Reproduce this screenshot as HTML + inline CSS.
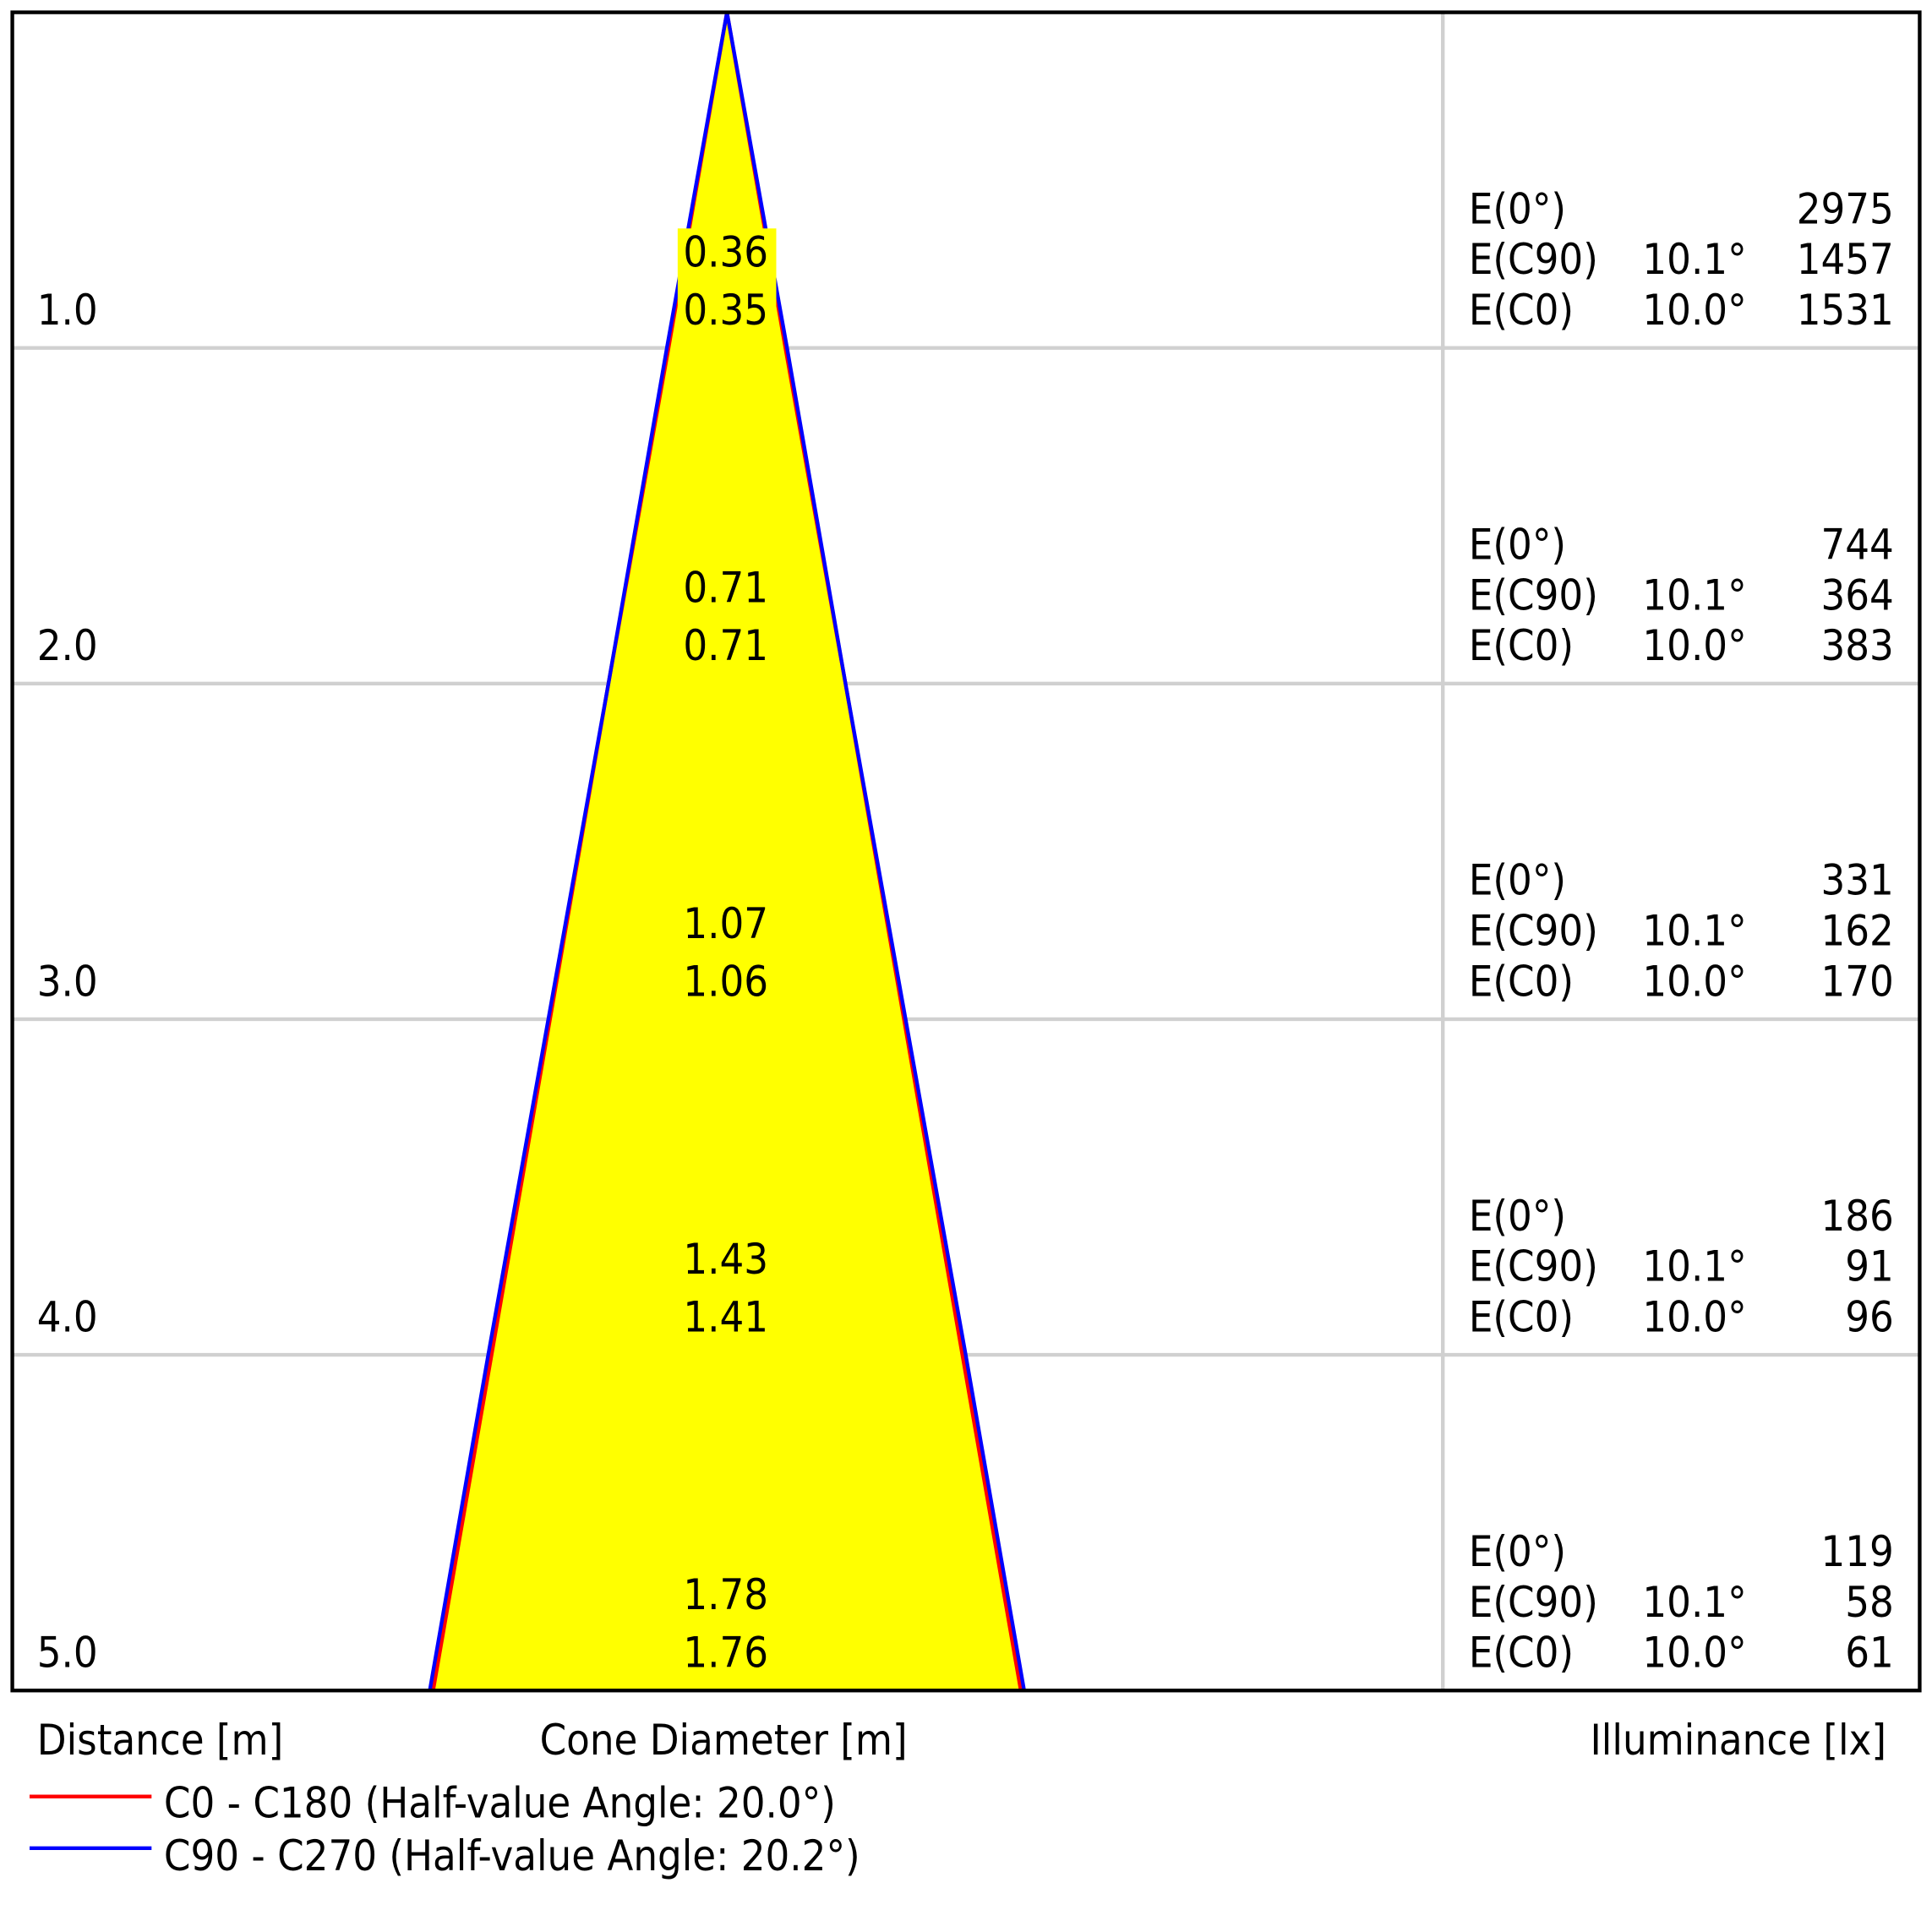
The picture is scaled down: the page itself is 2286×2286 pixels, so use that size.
<!DOCTYPE html>
<html><head><meta charset="utf-8"><style>
html,body{margin:0;padding:0;background:#fff;}
svg{display:block;}
text{font-family:"DejaVu Sans Condensed","Liberation Sans",sans-serif;font-size:34.5px;fill:#000;}
</style></head><body>
<svg id="chart" width="2286" height="2286" viewBox="0 0 1568 1568" preserveAspectRatio="none" xmlns="http://www.w3.org/2000/svg">
<rect x="0" y="0" width="1568" height="1568" fill="#fff"/>
<g id="grid"></g>
<g id="cone"></g>
<g id="labels"></g>
<rect x="10" y="10" width="1548" height="1362" fill="none" stroke="#000" stroke-width="3"/>
<text x="30" y="1424">Distance [m]</text>
<text x="438" y="1424">Cone Diameter [m]</text>
<text x="1531" y="1424" text-anchor="end">Illuminance [lx]</text>
<line x1="24" y1="1458" x2="123" y2="1458" stroke="#f00" stroke-width="3"/>
<text x="133" y="1475">C0 - C180 (Half-value Angle: 20.0°)</text>
<line x1="24" y1="1500" x2="123" y2="1500" stroke="#00f" stroke-width="3"/>
<text x="133" y="1518">C90 - C270 (Half-value Angle: 20.2°)</text>
</svg>
<script>
const distances = [1, 2, 3, 4, 5];
const diamC90 = [0.36, 0.71, 1.07, 1.43, 1.78];
const diamC0 = [0.35, 0.71, 1.06, 1.41, 1.76];
const e0 = [2975, 744, 331, 186, 119];
const eC90 = [1457, 364, 162, 91, 58];
const eC0 = [1531, 383, 170, 96, 61];
const angleC90 = "10.1°";
const angleC0 = "10.0°";

const NS = "http://www.w3.org/2000/svg";
const cx = 590, top0 = 10, rowH = 272.4, pxPerM = 271;
const yOf = d => top0 + d * rowH;
const xOf = (w, side) => cx + side * (w / 2) * pxPerM;
function mk(tag, attrs, parent, txt) {
  const el = document.createElementNS(NS, tag);
  for (const k in attrs) el.setAttribute(k, attrs[k]);
  if (txt !== undefined) el.textContent = txt;
  parent.appendChild(el);
  return el;
}
const grid = document.getElementById('grid');
const cone = document.getElementById('cone');
const labels = document.getElementById('labels');

let pts = [cx + ',' + top0];
distances.forEach((d, i) => pts.push(xOf(diamC90[i], 1) + ',' + yOf(d)));
for (let i = distances.length - 1; i >= 0; i--) pts.push(xOf(diamC90[i], -1) + ',' + yOf(distances[i]));
const fill = mk('polygon', {points: pts.join(' '), fill: '#ffff00'}, cone);



distances.forEach((d, i) => {
  if (i < distances.length - 1) {
    const l = mk('line', {x1: 10, x2: 1558, y1: yOf(d), y2: yOf(d), stroke: '#d0d0d0', 'stroke-width': 3}, grid);
    
    
  }
});
const vl = mk('line', {x1: 1171, x2: 1171, y1: 10, y2: 1372, stroke: '#d0d0d0', 'stroke-width': 3}, grid);



function edge(arr, side, color, name) {
  const p = [cx + ',' + top0];
  distances.forEach((d, i) => p.push(xOf(arr[i], side) + ',' + yOf(d)));
  const pl = mk('polyline', {points: p.join(' '), fill: 'none', stroke: color, 'stroke-width': 3}, cone);
  
  
}
edge(diamC0, -1, '#f00', 'c0-left-edge');
edge(diamC0, 1, '#f00', 'c0-right-edge');
edge(diamC90, -1, '#00f', 'c90-left-edge');
edge(diamC90, 1, '#00f', 'c90-right-edge');

distances.forEach((d, i) => {
  const y = yOf(d);
  if (i === 0) {
    const bg = mk('rect', {x: 550, y: y - 97, width: 80, height: 86, fill: '#ffff00'}, labels);
    
    
  }
  const t1 = mk('text', {x: 589, y: y - 66, 'text-anchor': 'middle'}, labels, diamC90[i].toFixed(2));
  
  
  const t2 = mk('text', {x: 589, y: y - 19, 'text-anchor': 'middle'}, labels, diamC0[i].toFixed(2));
  
  
  const dl = mk('text', {x: 30, y: y - 19}, labels, d.toFixed(1));
  
  
  const rows = [['E(0°)', '', e0[i]], ['E(C90)', angleC90, eC90[i]], ['E(C0)', angleC0, eC0[i]]];
  rows.forEach((r, j) => {
    const yy = y - 101 + j * 41;
    const a = mk('text', {x: 1192, y: yy}, labels, r[0]);
    
    
    if (r[1]) {
      const b = mk('text', {x: 1333, y: yy}, labels, r[1]);
      
      
    }
    const c = mk('text', {x: 1537, y: yy, 'text-anchor': 'end'}, labels, String(r[2]));
    
    
  });
});
</script>
</body></html>
